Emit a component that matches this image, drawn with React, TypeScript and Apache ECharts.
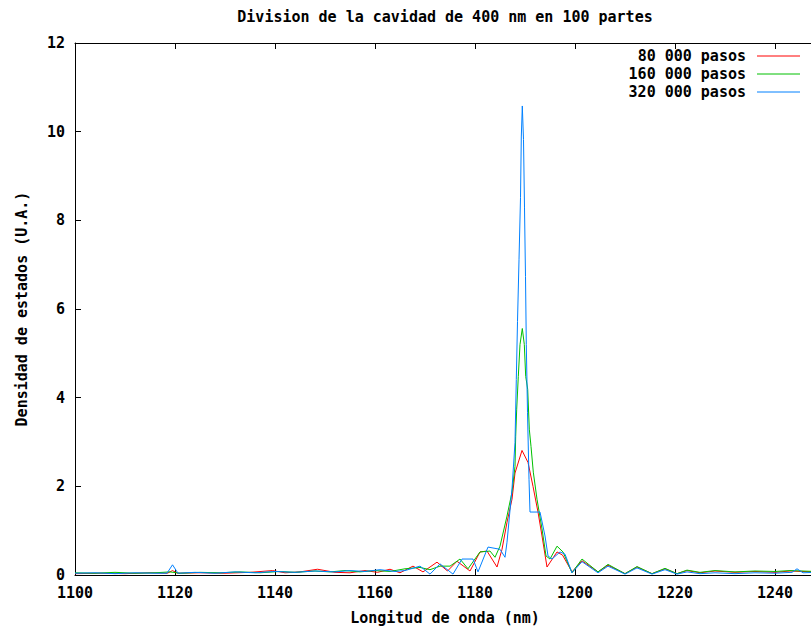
import React, { useEffect, useRef } from "react";
import * as echarts from "echarts";

const TITLE = "Division de la cavidad de 400 nm en 100 partes";
const X_NAME = "Longitud de onda (nm)";
const Y_NAME = "Densidad de estados (U.A.)";
const SERIES_NAMES = ["80 000 pasos", "160 000 pasos", "320 000 pasos"];
const COLORS = ["#ff0000", "#00c000", "#0080ff"];

const xR = [1100,1105,1110,1115,1118.5,1119.5,1120.5,1125,1130,1135,1139.5,1142,1145,1148.5,1152,1155,1158,1160.5,1163,1165,1167.6,1169.6,1172.4,1174.5,1176.4,1179,1181,1182.4,1183.4,1184.4,1185.4,1186.4,1187.4,1188,1189.4,1190.6,1191.6,1192.6,1193.4,1194.4,1196.4,1197.5,1199.4,1201.4,1204.6,1206.6,1210,1212.4,1215.4,1218,1220.4,1222.4,1225,1228,1232,1236,1240,1243,1248];
const yR = [0.03,0.04,0.03,0.05,0.04,0.10,0.04,0.05,0.04,0.06,0.10,0.05,0.07,0.13,0.06,0.05,0.10,0.06,0.13,0.05,0.20,0.07,0.29,0.09,0.31,0.09,0.52,0.54,0.36,0.18,0.58,1.19,1.71,2.30,2.81,2.54,2.00,1.42,0.88,0.18,0.52,0.45,0.07,0.32,0.07,0.22,0.03,0.18,0.03,0.14,0.03,0.10,0.05,0.09,0.06,0.08,0.06,0.09,0.07];

const xG = [1100,1104,1108,1112,1116,1119,1121,1125,1129,1133,1137,1141,1144,1148,1151,1154,1157,1160,1163,1166,1169,1171,1173,1175,1177,1178.6,1181,1183,1184,1185,1186.4,1187.4,1188,1188.14,1188.34,1188.66,1189,1189.46,1189.86,1190.14,1190.54,1190.86,1191.2,1191.66,1192.4,1193.4,1194.2,1195,1196.4,1197.6,1199.4,1201.4,1204.6,1206.6,1210,1212.4,1215.4,1218,1220.4,1222.4,1225,1228,1232,1236,1240,1243,1248];
const yG = [0.05,0.04,0.06,0.04,0.05,0.07,0.04,0.06,0.05,0.07,0.05,0.08,0.06,0.09,0.07,0.10,0.07,0.10,0.08,0.14,0.17,0.12,0.20,0.20,0.36,0.14,0.52,0.54,0.40,0.65,1.33,1.87,2.45,3.13,3.74,4.48,5.20,5.56,5.20,4.48,4.19,3.29,2.90,2.32,1.71,1.04,0.43,0.36,0.65,0.52,0.05,0.36,0.07,0.24,0.03,0.19,0.03,0.15,0.03,0.11,0.06,0.10,0.07,0.09,0.08,0.10,0.08];

const xB = [1100,1104,1108,1112,1116,1118.4,1119.5,1120.6,1124,1128,1132,1136,1140,1144,1148,1152,1155,1158,1161,1164,1166,1169,1171,1173,1175.6,1177.4,1179.6,1180.6,1182.6,1185,1186,1186.4,1187.4,1188,1188.26,1188.5,1188.8,1189.1,1189.26,1189.46,1189.7,1189.9,1190.1,1190.26,1190.5,1190.8,1191,1193,1194,1194.6,1195.4,1197,1198,1199.4,1201.4,1204.6,1206.6,1210,1212.4,1215.4,1218,1220.4,1222.4,1225,1228,1232,1236,1240,1243.4,1244.4,1245.6,1248];
const yB = [0.04,0.05,0.03,0.05,0.04,0.04,0.23,0.04,0.06,0.04,0.07,0.05,0.08,0.06,0.09,0.07,0.10,0.08,0.12,0.08,0.10,0.20,0.02,0.25,0.02,0.36,0.36,0.07,0.63,0.58,0.40,0.74,1.94,2.99,4.41,5.72,7.11,8.51,9.88,10.58,9.82,8.28,6.73,5.20,3.67,2.16,1.42,1.42,0.88,0.43,0.36,0.52,0.47,0.05,0.30,0.05,0.20,0.02,0.16,0.02,0.12,0.02,0.07,0.03,0.05,0.03,0.05,0.04,0.06,0.14,0.05,0.06];

const X_MIN = 1100;
const X_MAX = 1248;
const X_STEP = 20;
const Y_MIN = 0;
const Y_MAX = 12;
const Y_STEP = 2;

const FONT = "DejaVu Sans Mono";
const FS = 15;

const zip = (xs: number[], ys: number[]) => xs.map((x, i) => [x, ys[i]]);

export default function App() {
  const ref = useRef<HTMLDivElement>(null);
  useEffect(() => {
    if (!ref.current) return;
    const chart = echarts.init(ref.current, undefined, { renderer: "svg" });
    const seriesData = [zip(xR, yR), zip(xG, yG), zip(xB, yB)];
    const txt = { fontFamily: FONT, fontWeight: "bold" as const, fontSize: FS, color: "#000" };
    const legendRows = [56, 74, 92];
    const graphic: any[] = [
      {
        type: "text",
        x: 445,
        y: 17,
        style: { text: TITLE, font: `bold ${FS}px "${FONT}"`, fill: "#000", textAlign: "center", textVerticalAlign: "middle" },
      },
    ];
    SERIES_NAMES.forEach((n, i) => {
      graphic.push({
        type: "text",
        x: 746,
        y: legendRows[i],
        style: { text: n, font: `bold ${FS}px "${FONT}"`, fill: "#000", textAlign: "right", textVerticalAlign: "middle" },
      });
      graphic.push({
        type: "line",
        shape: { x1: 757, y1: legendRows[i], x2: 800, y2: legendRows[i] },
        style: { stroke: COLORS[i], lineWidth: 1 },
      });
    });
    chart.setOption({
      animation: false,
      grid: { left: 75, top: 43, right: 1, bottom: 54, containLabel: false },
      xAxis: [
        {
          type: "value",
          min: X_MIN,
          max: X_MAX,
          interval: X_STEP,
          position: "bottom",
          name: X_NAME,
          nameLocation: "middle",
          nameGap: 35,
          nameTextStyle: txt,
          axisLine: { show: true, lineStyle: { color: "#000", width: 1 } },
          axisTick: { show: true, inside: true, length: 6, lineStyle: { color: "#000" } },
          axisLabel: { ...txt, margin: 10, showMaxLabel: false, formatter: (v: number) => String(v) },
          splitLine: { show: false },
        },
        {
          type: "value",
          min: X_MIN,
          max: X_MAX,
          interval: X_STEP,
          position: "top",
          axisLine: { show: true, lineStyle: { color: "#000", width: 1 } },
          axisTick: { show: true, inside: true, length: 6, lineStyle: { color: "#000" } },
          axisLabel: { show: false },
          splitLine: { show: false },
        },
      ],
      yAxis: [
        {
          type: "value",
          min: Y_MIN,
          max: Y_MAX,
          interval: Y_STEP,
          name: Y_NAME,
          nameLocation: "middle",
          nameGap: 46,
          nameTextStyle: txt,
          axisLine: { show: true, lineStyle: { color: "#000", width: 1 } },
          axisTick: { show: true, inside: true, length: 6, lineStyle: { color: "#000" } },
          axisLabel: { ...txt, margin: 10, formatter: (v: number) => String(v) },
          splitLine: { show: false },
        },
      ],
      series: SERIES_NAMES.map((n, i) => ({
        name: n,
        type: "line",
        xAxisIndex: 0,
        yAxisIndex: 0,
        data: seriesData[i],
        showSymbol: false,
        symbol: "none",
        lineStyle: { color: COLORS[i], width: 1 },
        itemStyle: { color: COLORS[i] },
        z: 2 + i,
      })),
      graphic,
    });
    return () => chart.dispose();
  }, []);
  return (
    <div style={{ position: "fixed", left: 0, top: 0, width: 811, height: 630, overflow: "hidden", background: "#fff" }}>
      <div ref={ref} style={{ width: 816, height: 630 }} />
    </div>
  );
}
